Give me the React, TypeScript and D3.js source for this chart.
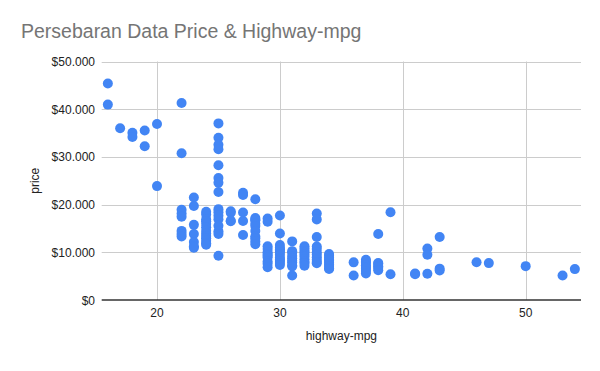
import React, { useEffect, useRef } from 'react';
import * as d3 from 'd3';

interface CarPoint {
  mpg: number;
  price: number;
}

const TITLE = 'Persebaran Data Price & Highway-mpg';
const X_LABEL = 'highway-mpg';
const Y_LABEL = 'price';

const X_TICKS = [20, 30, 40, 50];
const Y_TICKS = [0, 10000, 20000, 30000, 40000, 50000];

// highway-mpg -> prices
const mpg16 = [45400, 40960];
const mpg17 = [36000];
const mpg18 = [35056, 34184];
const mpg19 = [35550, 32250];
const mpg20 = [36880, 23875];
const mpg22 = [41315, 30760, 18920, 18150, 17450, 14489, 13860, 13295];
const mpg23 = [21485, 19699, 15750, 13845, 12170, 11245, 10945];
const mpg24 = [18500, 17950, 16900, 16500, 15998, 15250, 14500, 13950, 13415, 12964, 12440, 11900, 11595];
const mpg25 = [37028, 34028, 32528, 31600, 28248, 25552, 24565, 22625, 19045, 18420, 17669, 16925, 15580, 14400, 13860, 9279];
const mpg26 = [18620, 18280, 16630, 16500];
const mpg27 = [22470, 22018, 18344, 16558, 13645];
const mpg28 = [21105, 17199, 16845, 16695, 15985, 15510, 14489, 13295, 12945, 12290, 11694];
const mpg29 = [17075, 16430, 11259, 10698, 9989, 9639, 9295, 8921, 8058, 7609, 6849];
const mpg30 = [17710, 13950, 11549, 10945, 10595, 10345, 9995, 9495, 8845, 8495, 8195, 7775, 7349];
const mpg31 = [12290, 10245, 9960, 9233, 8778, 8249, 7898, 7295, 7053, 5151];
const mpg32 = [11245, 10795, 10295, 9960, 9538, 9095, 8558, 8013, 7775, 7198];
const mpg33 = [18150, 16900, 13200, 11199, 10698, 9989, 9549, 8948, 8449, 7957, 7689];
const mpg34 = [9639, 9258, 8916, 8499, 8238, 7799, 7463, 7126, 6669, 6488];
const mpg36 = [7895, 5118];
const mpg37 = [8449, 7999, 7788, 7295, 6918, 6529, 6095, 5572];
const mpg38 = [13845, 7738, 7603, 7053, 6785, 6229];
const mpg39 = [18399, 5399];
const mpg41 = [5572, 5389];
const mpg42 = [10795, 9495, 5499];
const mpg43 = [13200, 6575, 6189];
const mpg46 = [7898];
const mpg47 = [7738];
const mpg50 = [7099];
const mpg53 = [5151];
const mpg54 = [6479];

const PRICES_BY_MPG: [number, number[]][] = [
  [16, mpg16], [17, mpg17], [18, mpg18], [19, mpg19], [20, mpg20],
  [22, mpg22], [23, mpg23], [24, mpg24], [25, mpg25], [26, mpg26],
  [27, mpg27], [28, mpg28], [29, mpg29], [30, mpg30], [31, mpg31],
  [32, mpg32], [33, mpg33], [34, mpg34], [36, mpg36], [37, mpg37],
  [38, mpg38], [39, mpg39], [41, mpg41], [42, mpg42], [43, mpg43],
  [46, mpg46], [47, mpg47], [50, mpg50], [53, mpg53], [54, mpg54],
];

const FONT = 'Arial, "Liberation Sans", sans-serif';

const App: React.FC = () => {
  const svgRef = useRef<SVGSVGElement>(null);

  useEffect(() => {
    if (!svgRef.current) return;
    const svg = d3.select(svgRef.current);
    svg.selectAll('*').remove();

    const width = 600;
    const height = 371;
    const margin = { top: 61.5, right: 19, bottom: 71, left: 101.7 };

    const data: CarPoint[] = PRICES_BY_MPG.flatMap(([mpg, prices]) => prices.map((price) => ({ mpg, price })));

    const x = d3.scaleLinear().domain([15.5, 54.5]).range([margin.left, width - margin.right]);
    const y = d3.scaleLinear().domain([0, 50000]).range([height - margin.bottom, margin.top]);

    svg.append('rect').attr('width', width).attr('height', height).attr('fill', '#fff');

    // gridlines
    svg
      .append('g')
      .selectAll('line')
      .data(Y_TICKS.filter((t) => t > 0))
      .enter()
      .append('line')
      .attr('x1', margin.left)
      .attr('x2', width - margin.right)
      .attr('y1', (d) => Math.round(y(d)) + 0.5)
      .attr('y2', (d) => Math.round(y(d)) + 0.5)
      .attr('stroke', '#cccccc')
      .attr('stroke-width', 1);

    svg
      .append('g')
      .selectAll('line')
      .data(X_TICKS)
      .enter()
      .append('line')
      .attr('x1', (d) => Math.round(x(d)) + 0.5)
      .attr('x2', (d) => Math.round(x(d)) + 0.5)
      .attr('y1', margin.top)
      .attr('y2', height - margin.bottom)
      .attr('stroke', '#cccccc')
      .attr('stroke-width', 1);

    // baseline
    svg
      .append('line')
      .attr('x1', margin.left)
      .attr('x2', width - margin.right)
      .attr('y1', y(0))
      .attr('y2', y(0))
      .attr('stroke', '#333333')
      .attr('stroke-width', 1.5);

    // tick labels
    const fmt = (v: number) => '$' + d3.format(',')(v).replace(/,/g, '.');
    svg
      .append('g')
      .selectAll('text')
      .data(Y_TICKS)
      .enter()
      .append('text')
      .attr('x', 95)
      .attr('y', (d) => y(d) + 4.5)
      .attr('text-anchor', 'end')
      .style('font-family', FONT)
      .style('font-size', '12px')
      .attr('fill', '#222222')
      .text(fmt);

    svg
      .append('g')
      .selectAll('text')
      .data(X_TICKS)
      .enter()
      .append('text')
      .attr('x', (d) => x(d))
      .attr('y', 317)
      .attr('text-anchor', 'middle')
      .style('font-family', FONT)
      .style('font-size', '12px')
      .attr('fill', '#222222')
      .text((d) => String(d));

    // points
    svg
      .append('g')
      .selectAll('circle')
      .data(data)
      .enter()
      .append('circle')
      .attr('cx', (d) => x(d.mpg))
      .attr('cy', (d) => y(d.price))
      .attr('r', 5)
      .attr('fill', '#4285f4');

    // titles
    svg
      .append('text')
      .attr('x', 21)
      .attr('y', 38)
      .style('font-family', FONT)
      .style('font-size', '19.5px')
      .attr('fill', '#757575')
      .text(TITLE);

    svg
      .append('text')
      .attr('x', (margin.left + width - margin.right) / 2)
      .attr('y', 340)
      .attr('text-anchor', 'middle')
      .style('font-family', FONT)
      .style('font-size', '12px')
      .attr('fill', '#222222')
      .text(X_LABEL);

    svg
      .append('text')
      .attr('transform', `translate(39, ${(margin.top + height - margin.bottom) / 2}) rotate(-90)`)
      .attr('text-anchor', 'middle')
      .style('font-family', FONT)
      .style('font-size', '12px')
      .attr('fill', '#222222')
      .text(Y_LABEL);
  }, []);

  return <svg ref={svgRef} width={600} height={371} style={{ position: 'absolute', left: 0, top: 0 }} />;
};

export default App;
